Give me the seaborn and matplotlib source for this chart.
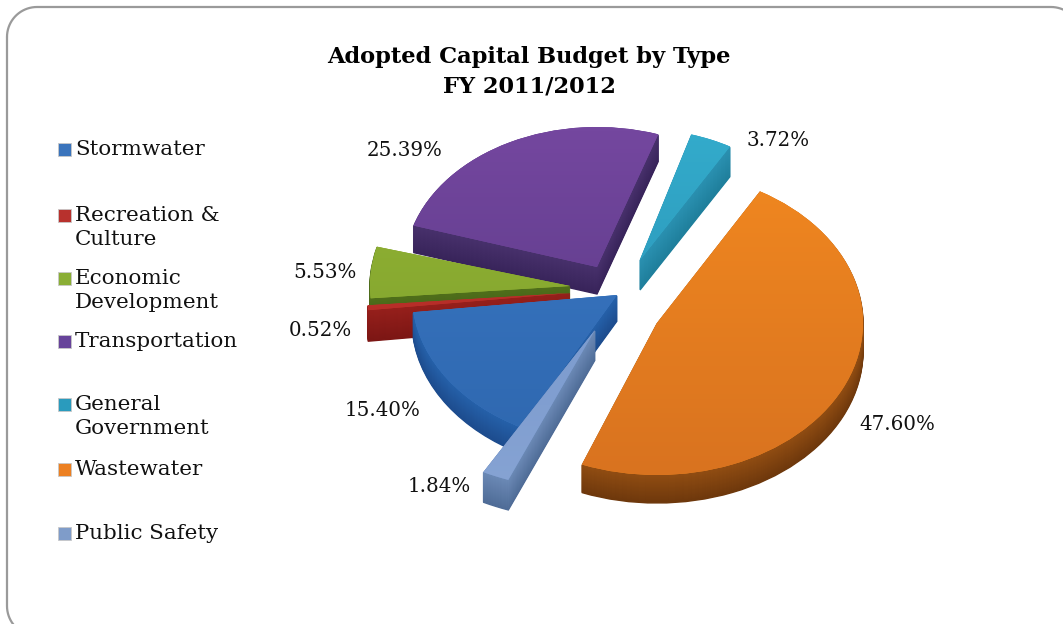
import numpy as np
import matplotlib
matplotlib.use("Agg")
import matplotlib.pyplot as plt
from matplotlib.patches import Rectangle
from matplotlib.transforms import Affine2D
import seaborn as sns

# pie order, clockwise from the top right
slices = ["Wastewater", "Public Safety", "Stormwater", "Recreation & Culture",
          "Economic Development", "Transportation", "General Government"]
shares = [47.60, 1.84, 15.40, 0.52, 5.53, 25.39, 3.72]
share_labels = ["47.60%", "1.84%", "15.40%", "0.52%", "5.53%", "25.39%", "3.72%"]

legend_order = ["Stormwater", "Recreation &\nCulture", "Economic\nDevelopment",
                "Transportation", "General\nGovernment", "Wastewater", "Public Safety"]
legend_colors = ["#3a74bc", "#b8312d", "#8aae35", "#67439a", "#2a9bbd", "#ec8022", "#7f9cc9"]

title_text = "Adopted Capital Budget by Type\nFY 2011/2012"

# style per slice: cx, cy, rx, ry, tilt, depth, gradient top/bottom, side top/bottom
slice_style = {
    "Wastewater": (657, 323, 206, 152, 0, 28, "#f0871f", "#d9731f", "#8f4c12", "#6e380c"),
    "Public Safety": (595, 330, 238, 161, 0, 30, "#7394ca", "#86a3d3", "#6a88b4", "#4f6c97"),
    "Stormwater": (617, 295, 205, 150, 0, 26, "#3a78c4", "#2f68b0", "#2560a8", "#1d4c8e"),
    "Recreation & Culture": (570, 293, 203, 150, 0, 31, "#c0332c", "#b02a26", "#951f1b", "#7c1614"),
    "Economic Development": (570, 286, 200, 150, 0, 20, "#94b533", "#7d9f2e", "#4f6e1a", "#44601a"),
    "Transportation": (597, 267, 192, 140, -2, 27, "#74479f", "#5b3a87", "#47306b", "#38245a"),
    "General Government": (640, 260, 180, 131, 0, 30, "#33abcb", "#2a93b6", "#2a90b0", "#1f7f9c"),
}
draw_order = ["General Government", "Transportation", "Economic Development",
              "Recreation & Culture", "Stormwater", "Public Safety", "Wastewater"]

label_pos = {"47.60%": (897, 424), "1.84%": (439, 487), "15.40%": (383, 411), "0.52%": (320, 330),
             "5.53%": (325, 273), "25.39%": (405, 150), "3.72%": (778, 140)}
legend_y = [150, 216, 279, 342, 405, 470, 534]

sns.set_theme(style="white")
plt.rcParams["font.family"] = ["DejaVu Serif"]

W, H = 1063, 624
fig = plt.figure(figsize=(W / 100, H / 100), dpi=100)
ax = fig.add_axes([0, 0, 1, 1])

starts = 60 - 3.6 * np.concatenate([[0], np.cumsum(shares)[:-1]])
start_for = dict(zip(slices, starts))
share_for = dict(zip(slices, shares))


def pie_slice(name, dy, color, z, lw=0.0):
    cx, cy, rx, ry, tilt = slice_style[name][:5]
    v = share_for[name]
    wedges, _ = ax.pie([v, 100 - v], colors=[color, "none"], startangle=start_for[name] + tilt,
                       counterclock=False, labeldistance=None, radius=1,
                       wedgeprops={"linewidth": lw, "edgecolor": color})
    wedges[1].remove()
    w = wedges[0]
    w.set_transform(Affine2D().scale(rx, -ry).translate(cx, cy + dy) + ax.transData)
    w.set_zorder(z)
    return w


z = 2
for name in draw_order:
    cx, cy, rx, ry, tilt, depth, top_a, top_b, side_a, side_b = slice_style[name]
    side_pal = sns.blend_palette([side_a, side_b], depth)
    for d in range(depth, 0, -1):
        pie_slice(name, d, side_pal[d - 1], z, lw=1.0)
        z += 1
    w = pie_slice(name, 0, top_a, z)
    z += 1
    grad = np.linspace(0, 1, 64).reshape(-1, 1)
    im = ax.imshow(grad, cmap=sns.blend_palette([top_a, top_b], as_cmap=True), aspect="auto",
                   extent=(cx - rx, cx + rx, cy + ry, cy - ry), origin="upper", zorder=z)
    im.set_clip_path(w)
    z += 1

ax.set_aspect("auto")
ax.set_xlim(0, W)
ax.set_ylim(H, 0)
ax.axis("off")

# rounded frame, runs off the right and bottom of the picture
r = 30
left, top, right, bottom = 7, 7, 1081, 636
t = np.linspace(0, np.pi / 2, 20)
frame_x = np.concatenate([left + r - r * np.cos(t), right - r + r * np.sin(t),
                          right - r + r * np.cos(t), left + r - r * np.sin(t), [left]])
frame_y = np.concatenate([top + r - r * np.sin(t), top + r - r * np.cos(t),
                          bottom - r + r * np.sin(t), bottom - r + r * np.cos(t), [top + r]])
ax.plot(frame_x, frame_y, color="#9a9a9a", lw=1.6, zorder=1)

ax.text(529, 71.5, title_text, ha="center", va="center", fontsize=16.2, fontweight="bold",
        color="black", linespacing=1.45, zorder=z)

for lab in share_labels:
    x, y = label_pos[lab]
    ax.text(x, y, lab, ha="center", va="center", fontsize=14.3, color="#111111", zorder=z)

for lab, c, y in zip(legend_order, legend_colors, legend_y):
    ax.add_patch(Rectangle((58, y - 7), 13, 13, fc=c, ec="#c8c8c8", lw=0.6, zorder=z))
    ax.text(75, y - 10, lab, ha="left", va="top", fontsize=15.4, color="#111111",
            linespacing=1.33, zorder=z)

fig.savefig("out.png", dpi=100)
